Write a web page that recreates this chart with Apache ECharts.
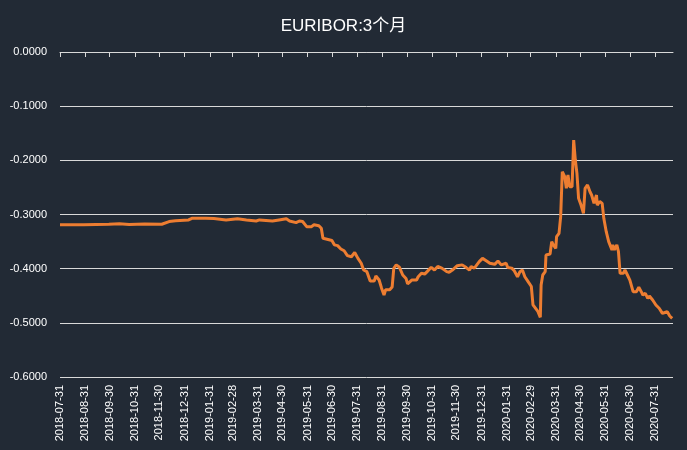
<!DOCTYPE html>
<html>
<head>
<meta charset="utf-8">
<script src="https://cdn.jsdelivr.net/npm/echarts@6/dist/echarts.min.js"></script>
<style>
html,body{margin:0;padding:0;background:#222a35;}
#c{width:687px;height:450px;}
</style>
</head>
<body>
<div id="c"></div>
<script>
var titleText = 'EURIBOR:3个月';
var tickDates = ['2018-07-31','2018-08-31','2018-09-30','2018-10-31','2018-11-30','2018-12-31',
  '2019-01-31','2019-02-28','2019-03-31','2019-04-30','2019-05-31','2019-06-30','2019-07-31',
  '2019-08-31','2019-09-30','2019-10-31','2019-11-30','2019-12-31','2020-01-31','2020-02-29',
  '2020-03-31','2020-04-30','2020-05-31','2020-06-30','2020-07-31'];
var dates = ['2018-07-31','2018-08-29','2018-09-29','2018-10-12','2018-10-24','2018-11-12','2018-12-03',
  '2018-12-12','2018-12-20','2019-01-05','2019-01-09','2019-01-26','2019-02-05','2019-02-20','2019-03-06',
  '2019-03-17','2019-03-29','2019-04-02','2019-04-18','2019-04-26','2019-05-05','2019-05-09','2019-05-17',
  '2019-05-21','2019-05-25','2019-05-30','2019-06-05','2019-06-08','2019-06-14','2019-06-17','2019-06-19',
  '2019-06-24','2019-06-30','2019-07-03','2019-07-07','2019-07-11','2019-07-15','2019-07-19','2019-07-24',
  '2019-07-28','2019-08-01','2019-08-05','2019-08-08','2019-08-12','2019-08-16','2019-08-21','2019-08-23',
  '2019-08-27','2019-08-30','2019-09-02','2019-09-04','2019-09-09','2019-09-12','2019-09-14','2019-09-17',
  '2019-09-21','2019-09-25','2019-09-29','2019-10-01','2019-10-06','2019-10-12','2019-10-14','2019-10-18',
  '2019-10-22','2019-10-25','2019-10-30','2019-11-03','2019-11-07','2019-11-12','2019-11-18','2019-11-21',
  '2019-11-25','2019-12-01','2019-12-07','2019-12-12','2019-12-16','2019-12-18','2019-12-22','2019-12-28',
  '2020-01-01','2020-01-06','2020-01-10','2020-01-16','2020-01-20','2020-01-24','2020-01-30','2020-02-01',
  '2020-02-06','2020-02-09','2020-02-13','2020-02-16','2020-02-19','2020-02-22','2020-02-26','2020-03-01',
  '2020-03-03','2020-03-06','2020-03-09','2020-03-12','2020-03-13','2020-03-15','2020-03-18','2020-03-19',
  '2020-03-21','2020-03-24','2020-03-26','2020-03-28','2020-03-31','2020-04-01','2020-04-04','2020-04-06',
  '2020-04-08','2020-04-11','2020-04-13','2020-04-15','2020-04-17','2020-04-20','2020-04-22','2020-04-24',
  '2020-04-26','2020-04-28','2020-05-01','2020-05-04','2020-05-06','2020-05-09','2020-05-12','2020-05-14',
  '2020-05-17','2020-05-20','2020-05-21','2020-05-24','2020-05-27','2020-05-29','2020-06-01','2020-06-04',
  '2020-06-08','2020-06-09','2020-06-11','2020-06-14','2020-06-16','2020-06-18','2020-06-20','2020-06-22',
  '2020-06-24','2020-06-27','2020-06-30','2020-07-04','2020-07-08','2020-07-11','2020-07-14','2020-07-16',
  '2020-07-19','2020-07-22','2020-07-24','2020-07-28','2020-08-01','2020-08-05','2020-08-09','2020-08-12',
  '2020-08-15','2020-08-18','2020-08-21'];
var values = [-0.319,-0.319,-0.318,-0.317,-0.3185,-0.3175,-0.318,
  -0.313,-0.3114,-0.310,-0.307,-0.307,-0.3075,-0.310,-0.308,
  -0.310,-0.312,-0.310,-0.312,-0.310,-0.308,-0.312,-0.315,
  -0.312,-0.313,-0.3225,-0.3225,-0.319,-0.3206,-0.3255,-0.344,
  -0.3457,-0.348,-0.356,-0.3575,-0.3637,-0.367,-0.376,-0.378,
  -0.370,-0.381,-0.390,-0.4025,-0.4055,-0.4227,-0.4227,-0.4135,
  -0.421,-0.436,-0.4486,-0.439,-0.439,-0.434,-0.3993,-0.393,
  -0.3975,-0.4117,-0.418,-0.428,-0.421,-0.421,-0.415,-0.4086,
  -0.410,-0.4055,-0.3975,-0.4025,-0.396,-0.399,-0.4055,-0.4067,
  -0.4025,-0.3945,-0.393,-0.398,-0.4025,-0.396,-0.399,-0.387,
  -0.381,-0.3858,-0.390,-0.392,-0.3858,-0.393,-0.390,-0.398,
  -0.399,-0.404,-0.415,-0.4055,-0.4025,-0.415,-0.424,-0.433,
  -0.467,-0.473,-0.479,-0.4898,-0.430,-0.4117,-0.4055,-0.3747,
  -0.3716,-0.373,-0.350,-0.356,-0.3624,-0.341,-0.3347,-0.304,
  -0.221,-0.230,-0.2516,-0.227,-0.2486,-0.2486,-0.1625,-0.1994,
  -0.224,-0.270,-0.2825,-0.2978,-0.2516,-0.2455,-0.258,-0.264,
  -0.2794,-0.264,-0.2825,-0.276,-0.2794,-0.307,-0.3317,-0.350,
  -0.3655,-0.356,-0.3655,-0.356,-0.3686,-0.4086,-0.4055,-0.4086,
  -0.4025,-0.4117,-0.421,-0.4425,-0.4425,-0.4345,-0.4425,-0.4486,
  -0.4455,-0.4547,-0.4505,-0.4578,-0.467,-0.473,-0.4825,-0.481,
  -0.4795,-0.4874,-0.4916];
var axisStart = '2018-07-31';
var axisEnd = '2020-08-22';

function ts(s){ var p = s.split('-'); return Date.UTC(+p[0], +p[1]-1, +p[2]); }
function fmt(v){ var d = new Date(v); function z(n){return (n<10?'0':'')+n;} return d.getUTCFullYear()+'-'+z(d.getUTCMonth()+1)+'-'+z(d.getUTCDate()); }

var tickTs = tickDates.map(ts);
var seriesData = dates.map(function(d,i){ return [ts(d), values[i]]; });
var font = '"Liberation Sans", Arial, "Noto Sans CJK SC", sans-serif';

var chart = echarts.init(document.getElementById('c'));
chart.setOption({
  backgroundColor: '#222a35',
  animation: false,
  title: {
    text: titleText, left: 'center', top: 13,
    textStyle: { color: '#ffffff', fontSize: 17, fontWeight: 'normal', fontFamily: '"Liberation Sans", "Noto Sans CJK SC", sans-serif' }
  },
  grid: { left: 60, right: 14, top: 52, bottom: 73, containLabel: false },
  xAxis: [{
    type: 'value', position: 'bottom', min: ts(axisStart), max: ts(axisEnd), scale: true,
    axisLine: { show: false }, axisTick: { show: false }, splitLine: { show: false },
    axisLabel: {
      customValues: tickTs, rotate: 90, margin: 8, color: '#ffffff', fontSize: 11, fontFamily: font,
      formatter: function(v){ return fmt(v); }, hideOverlap: false
    }
  }, {
    type: 'value', position: 'top', min: ts(axisStart), max: ts(axisEnd), scale: true,
    axisLine: { show: true, onZero: false, lineStyle: { color: '#d9d9d9', width: 1 } },
    axisTick: { show: true, inside: true, length: 5, customValues: tickTs, lineStyle: { color: '#d9d9d9' } },
    axisLabel: { show: false }, splitLine: { show: false }
  }],
  yAxis: {
    type: 'value', min: -0.6, max: 0, interval: 0.1,
    axisLine: { show: false }, axisTick: { show: false },
    splitLine: { show: true, lineStyle: { color: '#d9d9d9', width: 1 } },
    axisLabel: { color: '#ffffff', fontSize: 11, fontFamily: font, margin: 13,
      formatter: function(v){ return v.toFixed(4); } }
  },
  series: [{
    type: 'line', xAxisIndex: 0, data: seriesData, showSymbol: false,
    lineStyle: { color: '#ED7D31', width: 3 }, itemStyle: { color: '#ED7D31' }
  }]
});
</script>
</body>
</html>
